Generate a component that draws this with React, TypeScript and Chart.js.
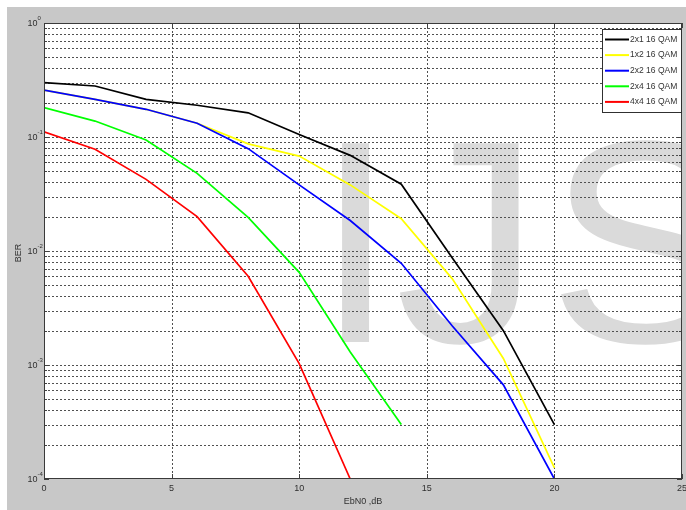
import React, { useEffect, useRef } from 'react';
import { Chart, registerables } from 'chart.js';

Chart.register(...registerables);

// ---- data ----
const ebn0 = [0, 2, 4, 6, 8, 10, 12, 14, 16, 18, 20];
const ber2x1 = [0.30, 0.28, 0.214, 0.19, 0.163, 0.105, 0.069, 0.0385, 0.0087, 0.0020, 0.00030];
const ber1x2 = [0.258, 0.214, 0.175, 0.132, 0.087, 0.068, 0.038, 0.0192, 0.0057, 0.00114, 0.000125];
const ber2x2 = [0.258, 0.214, 0.175, 0.132, 0.079, 0.038, 0.0185, 0.0078, 0.0022, 0.00067, 0.0001];
const ber2x4 = [0.181, 0.138, 0.094, 0.048, 0.0197, 0.0065, 0.0013, 0.0003];
const ber4x4 = [0.111, 0.078, 0.0425, 0.020, 0.0060, 0.00103, 0.0001];
const seriesLabels = ['2x1 16 QAM', '1x2 16 QAM', '2x2 16 QAM', '2x4 16 QAM', '4x4 16 QAM'];
const seriesColors = ['#000000', '#ffff00', '#0000ff', '#00ff00', '#ff0000'];
const seriesValues = [ber2x1, ber1x2, ber2x2, ber2x4, ber4x4];
const xTickValues = [0, 5, 10, 15, 20, 25];
const yDecades = [-4, -3, -2, -1, 0];
const xTitle = 'EbN0 ,dB';
const yTitle = 'BER';
const watermarkLetters = ['I', 'J', 'S'];

const FONT = '"Liberation Sans", Arial, Helvetica, sans-serif';

function yTickValues(): number[] {
  const out: number[] = [];
  for (let e = yDecades[0]; e < yDecades[yDecades.length - 1]; e++) {
    for (let m = 1; m <= 9; m++) out.push(parseFloat((m * Math.pow(10, e)).toPrecision(3)));
  }
  out.push(Math.pow(10, yDecades[yDecades.length - 1]));
  return out;
}

const matlabLook = {
  id: 'matlabLook',
  beforeDraw(chart: any) {
    const { ctx, chartArea: a, width, height } = chart;
    ctx.save();
    ctx.fillStyle = '#ffffff';
    ctx.fillRect(0, 0, width, height);
    ctx.fillStyle = '#c8c8c8';
    ctx.fillRect(7, 7, width - 7, height - 7);
    ctx.fillStyle = '#ffffff';
    ctx.fillRect(a.left, a.top, a.right - a.left, a.bottom - a.top);
    // watermark
    ctx.beginPath();
    ctx.rect(a.left, a.top, a.right - a.left, a.bottom - a.top);
    ctx.clip();
    ctx.fillStyle = '#dadada';
    ctx.font = `289px ${FONT}`;
    ctx.textAlign = 'left';
    ctx.textBaseline = 'alphabetic';
    const lefts = [338, 400, 557];
    watermarkLetters.forEach((ch, i) => {
      const m = ctx.measureText(ch);
      ctx.fillText(ch, lefts[i] + m.actualBoundingBoxLeft, 342);
    });
    ctx.restore();
  },
  beforeDatasetsDraw(chart: any) {
    const { ctx, chartArea: a } = chart;
    const xs = chart.scales.x;
    const ys = chart.scales.y;
    ctx.save();
    ctx.strokeStyle = '#505050';
    ctx.lineWidth = 1;
    ctx.setLineDash([2, 2]);
    xTickValues.forEach((v) => {
      const px = Math.round(xs.getPixelForValue(v)) + 0.5;
      if (px <= a.left + 1 || px >= a.right - 1) return;
      ctx.beginPath();
      ctx.moveTo(px, a.top);
      ctx.lineTo(px, a.bottom);
      ctx.stroke();
    });
    ys.ticks.forEach((t: any) => {
      const py = Math.round(ys.getPixelForValue(t.value)) + 0.5;
      if (py <= a.top + 1 || py >= a.bottom - 1) return;
      ctx.beginPath();
      ctx.moveTo(a.left, py);
      ctx.lineTo(a.right, py);
      ctx.stroke();
    });
    ctx.restore();
  },
  afterDraw(chart: any) {
    const { ctx, chartArea: a } = chart;
    const xs = chart.scales.x;
    const ys = chart.scales.y;
    ctx.save();
    ctx.setLineDash([]);
    ctx.strokeStyle = '#404040';
    ctx.lineWidth = 1;
    // tick marks (inside)
    ys.ticks.forEach((t: any) => {
      const py = Math.round(ys.getPixelForValue(t.value)) + 0.5;
      const major = Math.abs(Math.log10(t.value) - Math.round(Math.log10(t.value))) < 1e-6;
      const len = major ? 5 : 3;
      ctx.beginPath();
      ctx.moveTo(a.left, py);
      ctx.lineTo(a.left + len, py);
      ctx.moveTo(a.right, py);
      ctx.lineTo(a.right - len, py);
      ctx.stroke();
    });
    xTickValues.forEach((v) => {
      const px = Math.round(xs.getPixelForValue(v)) + 0.5;
      ctx.beginPath();
      ctx.moveTo(px, a.bottom);
      ctx.lineTo(px, a.bottom - 5);
      ctx.moveTo(px, a.top);
      ctx.lineTo(px, a.top + 5);
      ctx.stroke();
    });
    // box
    ctx.strokeStyle = '#3a3a3a';
    ctx.strokeRect(a.left + 0.5, a.top + 0.5, a.right - a.left - 1, a.bottom - a.top - 1);

    // tick labels
    ctx.fillStyle = '#303030';
    ctx.font = `9px ${FONT}`;
    ctx.textAlign = 'center';
    ctx.textBaseline = 'middle';
    xTickValues.forEach((v) => {
      ctx.fillText(String(v), xs.getPixelForValue(v), 489);
    });
    yDecades.forEach((e) => {
      const py = ys.getPixelForValue(Math.pow(10, e));
      ctx.font = `9px ${FONT}`;
      ctx.textAlign = 'right';
      ctx.textBaseline = 'middle';
      ctx.fillText('10', 37.5, py + 0.5);
      ctx.font = `6px ${FONT}`;
      ctx.textAlign = 'left';
      ctx.textBaseline = 'top';
      ctx.fillText(e === 0 ? '0' : '-' + Math.abs(e), 37.5, py - 7.5);
    });
    // axis titles
    ctx.font = `9px ${FONT}`;
    ctx.textAlign = 'center';
    ctx.textBaseline = 'middle';
    ctx.fillText(xTitle, (a.left + a.right) / 2, 502);
    ctx.save();
    ctx.translate(19, (a.top + a.bottom) / 2 + 2);
    ctx.rotate(-Math.PI / 2);
    ctx.fillText(yTitle, 0, 0);
    ctx.restore();

    // legend
    const bx = 602.5, by = 29.5, bw = 79, bh = 83;
    ctx.fillStyle = '#ffffff';
    ctx.fillRect(bx, by, bw, bh);
    ctx.strokeStyle = '#303030';
    ctx.strokeRect(bx, by, bw, bh);
    ctx.font = `8.5px ${FONT}`;
    ctx.textAlign = 'left';
    ctx.textBaseline = 'middle';
    seriesLabels.forEach((lab, i) => {
      const ry = 39.5 + i * 15.6;
      ctx.strokeStyle = seriesColors[i];
      ctx.lineWidth = 2;
      ctx.beginPath();
      ctx.moveTo(605, ry);
      ctx.lineTo(629, ry);
      ctx.stroke();
      ctx.fillStyle = '#333333';
      ctx.fillText(lab, 630, ry);
    });
    ctx.restore();
  },
};

export default function App() {
  const ref = useRef<HTMLCanvasElement | null>(null);

  useEffect(() => {
    if (!ref.current) return;
    const datasets = seriesValues.map((vals, i) => ({
      label: seriesLabels[i],
      data: vals.map((v, j) => ({ x: ebn0[j], y: v })),
      borderColor: seriesColors[i],
      backgroundColor: seriesColors[i],
      borderWidth: 1.7,
      pointRadius: 0,
      tension: 0,
      fill: false,
      order: seriesValues.length - i,
    }));
    const chart = new Chart(ref.current, {
      type: 'line',
      data: { datasets },
      plugins: [matlabLook],
      options: {
        animation: false,
        responsive: false,
        devicePixelRatio: 1,
        layout: { padding: { left: 0, top: 23, right: 4, bottom: 0 } },
        plugins: { legend: { display: false }, tooltip: { enabled: false } },
        scales: {
          x: {
            type: 'linear',
            min: 0,
            max: 25,
            grid: { display: false },
            border: { display: false },
            ticks: { display: false, stepSize: 5 },
            afterFit: (s: any) => { s.height = 31; },
          },
          y: {
            type: 'logarithmic',
            min: 1e-4,
            max: 1,
            grid: { display: false },
            border: { display: false },
            ticks: { display: false },
            afterBuildTicks: (s: any) => { s.ticks = yTickValues().map((v) => ({ value: v })); },
            afterFit: (s: any) => { s.width = 44; },
          },
        },
      } as any,
    });
    return () => chart.destroy();
  }, []);

  return (
    <div style={{ position: 'fixed', left: 0, top: 0, width: 686, height: 510 }}>
      <canvas ref={ref} width={686} height={510} style={{ display: 'block', width: 686, height: 510 }} />
    </div>
  );
}
